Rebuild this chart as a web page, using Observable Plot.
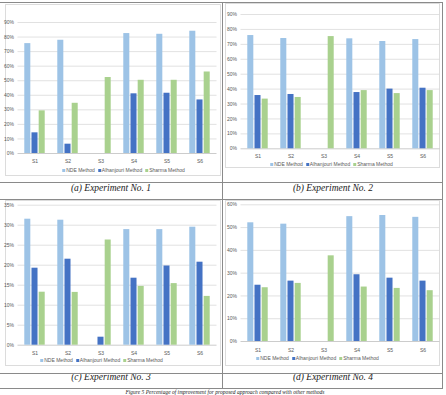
<!DOCTYPE html>
<html><head><meta charset="utf-8">
<script src="https://cdn.jsdelivr.net/npm/d3@7"></script>
<script src="https://cdn.jsdelivr.net/npm/@observablehq/plot@0.6"></script>
<style>
html,body{margin:0;padding:0;background:#fff;}
#root{position:relative;width:446px;height:395px;overflow:hidden;background:#fff;}
.abs{position:absolute;}
.hl{position:absolute;height:1px;background:#8a8a8a;}
.vl{position:absolute;width:1px;background:#8a8a8a;}
.frame{position:absolute;border:1px solid #dcdcdc;box-sizing:border-box;}
.cap{position:absolute;font-family:"Liberation Serif",serif;font-style:italic;font-size:9.5px;color:#222;white-space:nowrap;transform:translateX(-50%);}
.figcap{position:absolute;font-family:"Liberation Serif",serif;font-style:italic;font-size:5.5px;line-height:6px;color:#222;white-space:nowrap;transform:translateX(-50%);}
.leg{position:absolute;font-family:"Liberation Sans",sans-serif;font-size:5px;color:#595959;white-space:nowrap;transform:translateX(-50%);line-height:6px;}
.leg span.sw{display:inline-block;width:3px;height:3px;margin-right:1px;vertical-align:middle;}
.leg span.it{margin-right:3px;}
</style></head>
<body><div id="root"></div>
<script>
const categories = ["S1","S2","S3","S4","S5","S6"];
const methods = ["NDE Method","Alhanjouri Method","Sharma Method"];
const colors = ["#9dc3e6","#4472c4","#a9d18e"];

const exp1_nde = [75.5, 77.8, 0, 82.4, 81.9, 84];
const exp1_alh = [14.2, 6.4, 0, 41, 41.4, 36.8];
const exp1_sharma = [29.3, 34.5, 52.2, 50.3, 50.3, 56];

const exp2_nde = [75.9, 73.9, 0, 73.7, 71.9, 73.2];
const exp2_alh = [35.7, 36.4, 0, 37.7, 40, 40.6];
const exp2_sharma = [33.3, 34.4, 75.2, 39, 37, 39];

const exp3_nde = [31.5, 31.25, 0, 28.9, 28.9, 29.5];
const exp3_alh = [19.25, 21.5, 2, 16.75, 19.8, 20.75];
const exp3_sharma = [13.25, 13.2, 26.3, 14.7, 15.4, 12.2];

const exp4_nde = [52.1, 51.5, 0, 54.8, 55.3, 54.5];
const exp4_alh = [24.7, 26.5, 0, 29.3, 27.8, 26.5];
const exp4_sharma = [23.6, 25.5, 37.6, 23.9, 23.3, 22.3];

const ticks1 = [0,10,20,30,40,50,60,70,80,90];
const ticks2 = [0,10,20,30,40,50,60,70,80,90];
const ticks3 = [0,5,10,15,20,25,30,35];
const ticks4 = [0,10,20,30,40,50,60];

const captions = ["(a) Experiment No. 1","(b) Experiment No. 2","(c) Experiment No. 3","(d) Experiment No. 4"];
const figureCaption = "Figure 5 Percentage of improvement for proposed approach compared with other methods";

const root = document.getElementById("root");

function panel(vals, ticks, cfg) {
  const rows = [];
  methods.forEach((m,i)=>categories.forEach((c,j)=>rows.push({cat:c, method:m, value: vals[i][j]})));
  const W = 222, ml = 17.5, mr = 5.5;
  const step = (W-ml-mr)/categories.length;
  const bw = 6.2, gap = 7.2;
  const yMax = ticks[ticks.length-1];
  const svg = Plot.plot({
    width: W, height: cfg.height,
    marginLeft: ml, marginRight: mr, marginTop: cfg.mt, marginBottom: cfg.height - cfg.y0,
    style: {fontFamily: "Liberation Sans, sans-serif", fontSize: "5px", color: "#595959", background: "transparent", overflow: "visible"},
    x: {domain: categories, padding: 0, label: null, tickSize: 0, tickPadding: cfg.xpad},
    y: {domain: [0, yMax], ticks: ticks, tickFormat: d => d + "%", label: null, tickSize: 0, tickPadding: 4},
    marks: [
      Plot.ruleY(ticks.slice(1), {stroke: "#d9d9d9", strokeWidth: 0.8}),
      Plot.ruleY([0], {stroke: "#bfbfbf", strokeWidth: 0.8}),
      ...methods.map((m,i) => Plot.barY(rows.filter(r => r.method === m && r.value > 0), {
        x: "cat", y: "value", fill: colors[i],
        insetLeft: (step-bw)/2 + (i-1)*gap, insetRight: (step-bw)/2 - (i-1)*gap
      }))
    ]
  });
  svg.style.position = "absolute";
  svg.style.left = cfg.left + "px";
  svg.style.top = cfg.top + "px";
  root.appendChild(svg);

  const leg = document.createElement("div");
  leg.className = "leg";
  leg.style.left = cfg.legX + "px";
  leg.style.top = (cfg.legY - 3) + "px";
  methods.forEach((m,i) => {
    const sw = document.createElement("span"); sw.className = "sw"; sw.style.background = colors[i];
    const t = document.createElement("span"); t.className = "it"; t.textContent = m;
    leg.appendChild(sw); leg.appendChild(t);
  });
  root.appendChild(leg);

  const cap = document.createElement("div");
  cap.className = "cap";
  cap.textContent = cfg.caption;
  cap.style.left = cfg.capX + "px";
  cap.style.top = (cfg.capY - 6) + "px";
  root.appendChild(cap);
}

function box(cls, l, t, w, h) {
  const d = document.createElement("div");
  d.className = cls;
  d.style.left = l + "px"; d.style.top = t + "px";
  if (w != null) d.style.width = w + "px";
  if (h != null) d.style.height = h + "px";
  root.appendChild(d);
}

// inner chart frames
box("frame", 5, 4, 216, 172);
box("frame", 225, 3, 215, 165);
box("frame", 5, 200, 216, 166);
box("frame", 225, 200, 215, 166);

panel([exp1_nde, exp1_alh, exp1_sharma], ticks1,
  {left: 0, top: 0, height: 166, mt: 22, y0: 153, xpad: 6, legX: 125, legY: 169.5, caption: captions[0], capX: 111, capY: 189});
panel([exp2_nde, exp2_alh, exp2_sharma], ticks2,
  {left: 223, top: 0, height: 161, mt: 14, y0: 148.3, xpad: 6, legX: 333, legY: 163.5, caption: captions[1], capX: 333, capY: 189});
panel([exp3_nde, exp3_alh, exp3_sharma], ticks3,
  {left: 0, top: 195, height: 162, mt: 9.7, y0: 149.7, xpad: 6.5, legX: 103, legY: 360, caption: captions[2], capX: 111, capY: 378});
panel([exp4_nde, exp4_alh, exp4_sharma], ticks4,
  {left: 223, top: 195, height: 158, mt: 9.3, y0: 146, xpad: 7, legX: 319, legY: 357.7, caption: captions[3], capX: 333, capY: 378});

// table lines
box("hl", 0, 2, 443, null);
box("hl", 0, 182, 443, null);
box("hl", 0, 199, 443, null);
box("hl", 0, 373, 443, null);
box("hl", 0, 388, 443, null);
box("vl", 222, 2, null, 387);
box("vl", 442, 2, null, 387);

const fc = document.createElement("div");
fc.className = "figcap";
fc.style.left = "225px";
fc.style.top = "389px";
fc.textContent = figureCaption;
root.appendChild(fc);
</script>
</body></html>
